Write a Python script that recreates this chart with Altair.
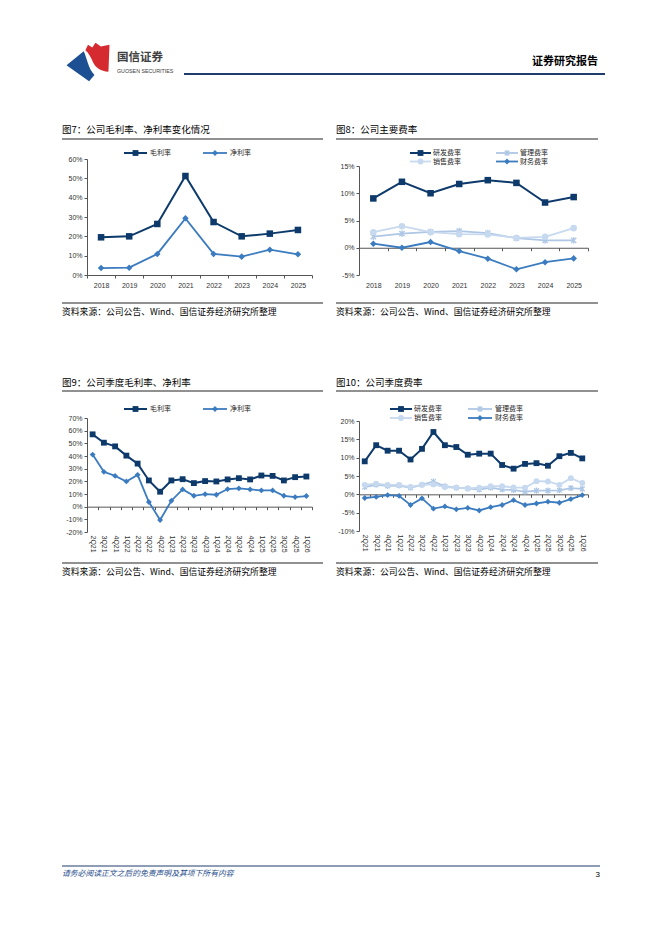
import altair as alt
import pandas as pd

# ---------------- data ----------------
years = ['2018', '2019', '2020', '2021', '2022', '2023', '2024', '2025']
gross_y = [19.5, 20.0, 26.4, 51.2, 27.4, 20.0, 21.4, 23.3]
net_y = [3.6, 3.8, 10.9, 29.3, 10.9, 9.5, 13.1, 10.7]

rd_y = [9.05, 12.1, 10.0, 11.7, 12.4, 11.9, 8.3, 9.3]
sales_y = [2.85, 3.95, 2.85, 2.5, 2.45, 1.8, 2.0, 3.6]
admin_y = [2.05, 2.6, 2.9, 3.05, 2.7, 1.75, 1.35, 1.35]
fin_y = [0.75, 0.0, 1.05, -0.6, -2.0, -3.95, -2.65, -1.95]

quarters = ['2Q21', '3Q21', '4Q21', '1Q22', '2Q22', '3Q22', '4Q22', '1Q23', '2Q23', '3Q23',
            '4Q23', '1Q24', '2Q24', '3Q24', '4Q24', '1Q25', '2Q25', '3Q25', '4Q25', '1Q26']
gross_q = [57.1, 50.5, 47.6, 40.3, 34.0, 20.7, 11.8, 20.7, 21.7, 18.6,
           20.2, 19.9, 21.5, 22.5, 21.5, 24.6, 24.3, 20.7, 23.3, 23.8]
net_q = [41.1, 27.5, 24.3, 19.9, 25.1, 3.7, -10.5, 4.7, 13.6, 8.6,
         9.9, 9.4, 13.9, 14.4, 13.6, 12.8, 12.8, 8.6, 7.6, 8.4]

rd_q = [9.0, 13.4, 11.9, 11.9, 9.5, 12.4, 17.0, 13.4, 12.9, 10.8,
        11.1, 11.1, 8.0, 7.0, 8.3, 8.5, 7.8, 10.4, 11.3, 9.8]
sales_q = [2.6, 2.9, 2.6, 2.6, 2.0, 2.6, 2.7, 2.0, 1.8, 1.6,
           1.8, 2.2, 2.2, 1.9, 1.8, 3.6, 3.5, 2.6, 4.4, 3.1]
admin_q = [2.0, 2.6, 2.3, 2.4, 1.8, 2.6, 3.5, 2.2, 1.8, 1.6,
           1.3, 1.8, 1.3, 1.2, 0.7, 1.0, 1.0, 1.1, 1.7, 1.5]
fin_q = [-1.0, -0.7, -0.2, -0.4, -2.9, -1.1, -3.9, -3.3, -4.1, -3.7,
         -4.4, -3.5, -2.9, -1.6, -2.9, -2.5, -2.0, -2.3, -1.3, -0.2]

GROSS, NET = '毛利率', '净利率'
RD, ADMIN, SALES, FIN = '研发费率', '管理费率', '销售费率', '财务费率'

title7 = '图7：公司毛利率、净利率变化情况'
title8 = '图8：公司主要费率'
title9 = '图9：公司季度毛利率、净利率'
title10 = '图10：公司季度费率'
source_txt = '资料来源：公司公告、Wind、国信证券经济研究所整理'
footer_txt = '请务必阅读正文之后的免责声明及其项下所有内容'
page_no = '3'

# ---------------- styles ----------------
DARK = '#0d3a6b'
MID = '#3b7bbf'
LIGHT_C = '#c6d9ef'
LIGHT_X = '#aec7e5'
AXC = '#555555'
NUM = 'Liberation Sans'
CJK = 'Noto Sans CJK SC'
ASTER = 'M-1,-1L1,1M-1,1L1,-1M0,-1.3L0,1.3'

STYLE = {
    GROSS: dict(color=DARK, shape='square', filled=True, size=34, sw=2.0),
    NET: dict(color=MID, shape='diamond', filled=True, size=34, sw=1.8),
    RD: dict(color=DARK, shape='square', filled=True, size=34, sw=2.0),
    ADMIN: dict(color=LIGHT_X, shape=ASTER, filled=False, size=22, sw=1.8),
    SALES: dict(color=LIGHT_C, shape='circle', filled=True, size=34, sw=1.8),
    FIN: dict(color=MID, shape='diamond', filled=True, size=34, sw=1.8),
}

ONE = pd.DataFrame({'k': [0]})


def txt(text, x, y, size, color='#000000', font=CJK, align='left', weight='normal', italic=False):
    mk = dict(text=text, fontSize=size, color=color, font=font, align=align,
              baseline='middle', fontWeight=weight)
    if italic:
        mk['fontStyle'] = 'italic'
    return alt.Chart(ONE).mark_text(**mk).encode(x=alt.value(x), y=alt.value(y))


def rule(x1, x2, y, color='#222222', w=1.0):
    return alt.Chart(ONE).mark_rule(color=color, strokeWidth=w).encode(
        x=alt.value(x1), x2=alt.value(x2), y=alt.value(y))


def box(x1, x2, y1, y2):
    # invisible rectangle fixing the extent of a block
    return alt.Chart(ONE).mark_rect(opacity=0).encode(
        x=alt.value(x1), x2=alt.value(x2), y=alt.value(y1), y2=alt.value(y2))


def marker(name, x, y, scale=1.0):
    st = STYLE[name]
    return alt.Chart(ONE).mark_point(shape=st['shape'], filled=st['filled'], size=st['size'] * scale,
                                     color=st['color'], opacity=1, strokeWidth=1.3).encode(
        x=alt.value(x), y=alt.value(y))


def legend_item(name, x0, x1, y, tx, scale=1.0):
    st = STYLE[name]
    return [rule(x0, x1, y, st['color'], st['sw']), marker(name, (x0 + x1) / 2, y, scale),
            txt(name, tx, y, 7, '#222222')]


def spacer(w, h):
    return box(0, w, 0, h).properties(width=w, height=h)


def plot_layers(cats, series, width, height, ymin, ymax, ystep, zero_axis, label_top, rotate,
                mscale=1.0):
    d_zero = height * (0 - ymin) / (ymax - ymin)
    if zero_axis:
        offset = -d_zero
        lab_pad = label_top + d_zero - 3
    else:
        offset = 0
        lab_pad = label_top - 3
    xaxis = alt.Axis(title=None, tickBand='extent', tickSize=3, tickColor=AXC, domainColor=AXC,
                     domainWidth=1, tickWidth=1, offset=offset, labelPadding=lab_pad,
                     labelAngle=90 if rotate else 0, labelFont=NUM, labelFontSize=7,
                     labelColor='#333333', grid=False, labelOverlap=False,
                     minExtent=0, maxExtent=200)
    vals = []
    v = ymin
    while v <= ymax + 1e-9:
        vals.append(round(v, 6))
        v += ystep
    yaxis = alt.Axis(title=None, values=vals, labelExpr="datum.value + '%'", grid=False,
                     tickSize=3, tickColor=AXC, domainColor=AXC, labelPadding=2,
                     labelFont=NUM, labelFontSize=7, labelColor='#333333', labelOverlap=False,
                     minExtent=0, maxExtent=200)
    xs = alt.Scale(type='band', domain=cats, paddingInner=0, paddingOuter=0)
    ys = alt.Scale(domain=[ymin, ymax], nice=False, zero=False)
    layers = []
    for name, values in series:
        st = STYLE[name]
        df = pd.DataFrame({'cat': cats, 'value': values})
        layers.append(
            alt.Chart(df).mark_line(
                color=st['color'], strokeWidth=st['sw'],
                point=alt.OverlayMarkDef(shape=st['shape'], filled=st['filled'],
                                         size=st['size'] * mscale,
                                         color=st['color'], opacity=1, strokeWidth=1.3)
            ).encode(
                x=alt.X('cat:N', sort=cats, scale=xs, axis=xaxis, bandPosition=0.5),
                y=alt.Y('value:Q', scale=ys, axis=yaxis)
            )
        )
    return layers


# ---------------- panels ----------------
# panel 7: plot origin page (87,159), 225x116
p7 = plot_layers(years, [(GROSS, gross_y), (NET, net_y)], 225, 116, 0, 60, 10, False, 6.5, False,
                 mscale=1.25)
d7 = [box(-33, 239, -41, 161),
      txt(title7, -25, -29, 9.5), rule(-25, 236, -20),
      *legend_item(GROSS, 37, 60, -6, 63), *legend_item(NET, 116, 140, -6, 143),
      rule(-25, 236, 144), txt(source_txt, -25, 153, 8.8)]
panel7 = alt.layer(*p7, *d7).properties(width=225, height=116)

# panel 8: plot origin page (359,166), 229x109
p8 = plot_layers(years, [(RD, rd_y), (ADMIN, admin_y), (SALES, sales_y), (FIN, fin_y)],
                 229, 109, -5, 15, 5, True, 6.5, False, mscale=1.25)
d8 = [box(-29, 241, -48, 154),
      txt(title8, -23, -36, 9.5), rule(-23, 239, -27),
      *legend_item(RD, 51, 72, -13, 74), *legend_item(ADMIN, 137, 159, -13, 161),
      *legend_item(SALES, 51, 72, -4.5, 74), *legend_item(FIN, 137, 159, -4.5, 161),
      rule(-23, 239, 137), txt(source_txt, -23, 146, 8.8)]
panel8 = alt.layer(*p8, *d8).properties(width=229, height=109)

# panel 9: plot origin page (87,418), 225x114
p9 = plot_layers(quarters, [(GROSS, gross_q), (NET, net_q)], 225, 114, -20, 70, 10, True, 3, True)
d9 = [box(-33, 239, -48, 162),
      txt(title9, -25, -35, 9.5), rule(-25, 236, -27),
      *legend_item(GROSS, 37, 60, -9, 63), *legend_item(NET, 116, 140, -9, 143),
      rule(-25, 236, 145), txt(source_txt, -25, 154, 8.8)]
panel9 = alt.layer(*p9, *d9).properties(width=225, height=114)

# panel 10: plot origin page (359,421), 229x110
p10 = plot_layers(quarters, [(RD, rd_q), (ADMIN, admin_q), (SALES, sales_q), (FIN, fin_q)],
                  229, 110, -10, 20, 5, True, 3, True)
d10 = [box(-29, 241, -51, 159),
       txt(title10, -23, -38, 9.5), rule(-23, 239, -30),
       *legend_item(RD, 31, 53, -12, 55), *legend_item(ADMIN, 109, 133, -12, 136),
       *legend_item(SALES, 31, 53, -3, 55), *legend_item(FIN, 109, 133, -3, 136),
       rule(-23, 239, 142), txt(source_txt, -23, 151, 8.8)]
panel10 = alt.layer(*p10, *d10).properties(width=229, height=110)

# ---------------- header / footer ----------------
BLUE_LOGO = 'M-1,0.15L-0.2,-0.5C-0.05,-0.2 0.0,0.3 0.3,0.6L0.05,0.9Z'
RED_LOGO = ('M-0.12,-0.55L0.0,-0.8L0.2,-0.68L0.35,-0.9L0.6,-0.72L1,-0.8L0.95,0.45'
            'C0.6,0.45 0.35,0.25 0.25,0.05C0.15,-0.2 0.05,-0.4 -0.12,-0.55Z')
header_layers = [
    box(0, 646, 0, 109),
    alt.Chart(ONE).mark_point(shape=BLUE_LOGO, filled=True, size=1850, color='#1d4f93', opacity=1)
       .encode(x=alt.value(80), y=alt.value(54)),
    alt.Chart(ONE).mark_point(shape=RED_LOGO, filled=True, size=1850, color='#d52a30', opacity=1)
       .encode(x=alt.value(80), y=alt.value(54)),
    txt('国信证券', 109, 50, 11.5, '#404040', weight='bold'),
    txt('GUOSEN SECURITIES', 109, 63, 5.3, '#3a3a3a', font=NUM),
    rule(176, 597, 66, '#1f3d6c', 2),
    txt('证券研究报告', 590, 54, 11, '#000000', align='right', weight='bold'),
]
header = alt.layer(*header_layers).properties(width=646, height=109)

footer_layers = [
    box(0, 646, 0, 320),
    rule(54, 592, 286, '#1f3d6c', 1),
    txt(footer_txt, 54, 294, 7.8, '#1f4e8c', italic=True),
    txt(page_no, 592, 294.5, 8, '#000000', font=NUM, align='right'),
]
footer = alt.layer(*footer_layers).properties(width=646, height=320)

col_left = alt.vconcat(spacer(1, 1), panel7, spacer(1, 50), panel9, spacing=0)
col_right = alt.vconcat(spacer(1, 1), panel8, spacer(1, 50), panel10, spacing=0)
body = alt.hconcat(spacer(46, 1), col_left, spacer(4, 1), col_right, spacing=0)

chart = alt.vconcat(header, body, footer, spacing=0).properties(
    padding=0, background='white'
).configure_view(stroke=None, strokeWidth=0)

chart.save('out.html', embed_options={'renderer': 'svg', 'actions': False})
